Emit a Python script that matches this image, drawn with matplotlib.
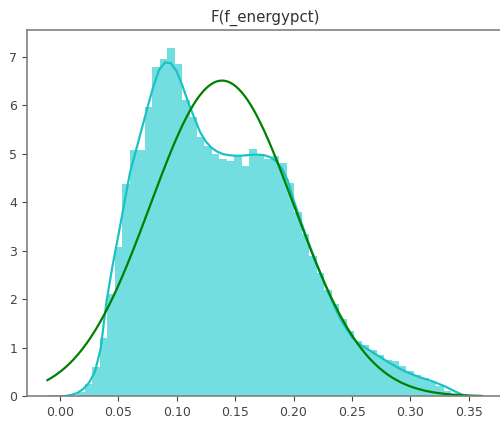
import numpy as np
import matplotlib
matplotlib.use("Agg")
import matplotlib.pyplot as plt

# histogram (density) - 50 equal bins between the data min and max
bin_lo, bin_hi = 0.015, 0.335
hist_heights = [0.1, 0.25, 0.6, 1.2, 2.1, 3.08, 4.38, 5.07, 5.07, 5.96,
                6.78, 6.96, 7.19, 6.85, 6.1, 5.75, 5.35, 5.15, 5.0, 4.9,
                4.85, 4.95, 4.75, 5.1, 4.95, 4.9, 4.95, 4.8, 4.4, 3.8,
                3.35, 2.9, 2.55, 2.2, 1.9, 1.6, 1.35, 1.15, 1.05, 0.95,
                0.85, 0.75, 0.72, 0.62, 0.52, 0.45, 0.38, 0.3, 0.22, 0.12]

# kde curve, every 0.005 starting at -0.010
kde_start, kde_step = -0.010, 0.005
kde_y = [0.0, 0.0, 0.0, 0.01, 0.03, 0.07, 0.15, 0.28, 0.5, 0.98,
         1.95, 2.67, 3.3, 3.95, 4.6, 5.05, 5.5, 5.95, 6.38, 6.73,
         6.88, 6.87, 6.7, 6.4, 6.05, 5.75, 5.45, 5.25, 5.12, 5.04,
         4.99, 4.97, 4.96, 4.96, 4.97, 4.98, 4.98, 4.97, 4.93, 4.85,
         4.7, 4.45, 4.05, 3.7, 3.35, 3.03, 2.72, 2.42, 2.12, 1.85,
         1.6, 1.4, 1.22, 1.1, 1.02, 0.95, 0.87, 0.8, 0.72, 0.65,
         0.58, 0.52, 0.47, 0.42, 0.38, 0.34, 0.3, 0.25, 0.2, 0.14,
         0.08, 0.03, 0.01, 0.0, 0.0]

# fitted normal
fit_mu, fit_sigma = 0.1388, 0.0613
fit_lo, fit_hi = -0.0105, 0.3613

edges = np.linspace(bin_lo, bin_hi, len(hist_heights) + 1)
kde_x = kde_start + kde_step * np.arange(len(kde_y))
fx = np.linspace(fit_lo, fit_hi, 300)
fy = np.exp(-0.5 * ((fx - fit_mu) / fit_sigma) ** 2) / (fit_sigma * np.sqrt(2 * np.pi))

fig = plt.figure(figsize=(5, 4.26), dpi=100)
ax = fig.add_axes([0.054, 0.0695, 0.954, 0.86])

ax.bar(edges[:-1], hist_heights, width=np.diff(edges), align="edge",
       color="#00c4c6", alpha=0.55, linewidth=0)
ax.plot(kde_x, kde_y, color="#1bc2c4", lw=1.6)
ax.plot(fx, fy, color="green", lw=1.6)

ax.set_xlim(-0.028, 0.38)
ax.set_ylim(0, 7.55)
ax.set_xticks([0.0, 0.05, 0.10, 0.15, 0.20, 0.25, 0.30, 0.35])
ax.set_xticklabels(["0.00", "0.05", "0.10", "0.15", "0.20", "0.25", "0.30", "0.35"])
ax.set_yticks(range(8))
ax.tick_params(labelsize=9, colors="#444444", length=3.5)
for s in ax.spines.values():
    s.set_color("#808080")
    s.set_linewidth(1.2)
ax.set_title("F(f_energypct)", fontsize=10.8, color="#333333", pad=6)

fig.savefig("out.png", dpi=100)
